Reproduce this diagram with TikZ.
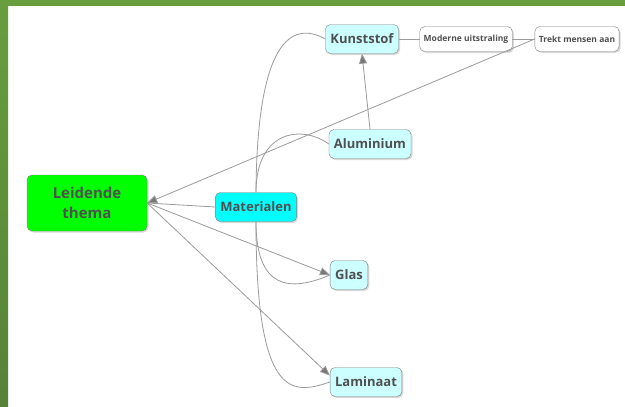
\documentclass[tikz,border=0pt]{standalone}
\usepackage{fontspec}
\setmainfont{Open Sans}
\usepackage{tikz}
\usetikzlibrary{arrows.meta,shadows,calc}

\definecolor{framegreen}{RGB}{104,158,62}
\definecolor{framedark}{RGB}{86,130,54}
\definecolor{txtgray}{RGB}{80,80,80}
\definecolor{linegray}{RGB}{155,155,155}
\definecolor{tipgray}{RGB}{120,120,120}
\definecolor{boxgray}{RGB}{125,125,125}
\definecolor{themegreen}{RGB}{0,255,0}
\definecolor{brightcyan}{RGB}{0,255,255}
\definecolor{palecyan}{RGB}{204,255,255}

\begin{document}
\begin{tikzpicture}[x=1pt,y=-1pt,
    box/.style={draw=boxgray, rounded corners=5pt, text=txtgray,
      drop shadow={shadow xshift=1.5pt, shadow yshift=-1.5pt, opacity=0.3}},
    topic/.style={box, font=\bfseries\fontsize{13}{15}\selectfont,
      inner xsep=5pt, minimum height=29pt},
    note/.style={box, fill=white, font=\bfseries\fontsize{8.5}{10}\selectfont,
      inner xsep=4pt, minimum height=25pt},
    link/.style={draw=linegray, line width=0.8pt},
    arrowlink/.style={link, -{Triangle[length=10pt,width=8pt,fill=tipgray]}}]

  % Canvas and frame
  \useasboundingbox (0,0) rectangle (625,407);
  \fill[white] (0,0) rectangle (625,407);
  \shade[top color=framegreen, bottom color=framedark] (0,0) rectangle (8,407);
  \fill[framegreen] (0,0) rectangle (625,6);

  % Main theme
  \node[box, fill=themegreen, minimum width=120pt, minimum height=56pt, align=center,
    font=\bfseries\fontsize{15}{20}\selectfont] (lei) at (87,203) {Leidende\\thema};

  % Topics
  \node[topic, fill=brightcyan] (mat) at (256,207) {Materialen};
  \node[topic, fill=palecyan] (kun) at (362,39) {Kunststof};
  \node[topic, fill=palecyan] (alu) at (370,144) {Aluminium};
  \node[topic, fill=palecyan] (glas) at (349,275) {Glas};
  \node[topic, fill=palecyan] (lam) at (366,382) {Laminaat};

  % Notes
  \node[note] (mod) at (466,39) {Moderne uitstraling};
  \node[note] (trekt) at (577,39) {Trekt mensen aan};

  % Straight links
  \draw[link] (lei.east) -- (mat.west);
  \draw[arrowlink] (lei.east) -- (glas.west);
  \draw[arrowlink] (lei.east) -- (lam.170);
  \draw[arrowlink] (trekt.west) -- (lei.east);
  \draw[arrowlink] (alu.north) -- (kun.south);
  \draw[link] (kun) -- (mod);
  \draw[link] (mod) -- (trekt);

  % Curved links from Materialen
  \draw[link] (mat.north) .. controls +(1,-151) and +(-34,-19) .. (kun.west);
  \draw[link] (mat.north) .. controls +(0,-61) and +(-28,-20) .. (alu.west);
  \draw[link] (mat.south) .. controls +(0,68) and +(-40,17) .. (glas.west);
  \draw[link] (mat.south) .. controls +(0,178) and +(-38,13) .. (lam.west);
\end{tikzpicture}
\end{document}
